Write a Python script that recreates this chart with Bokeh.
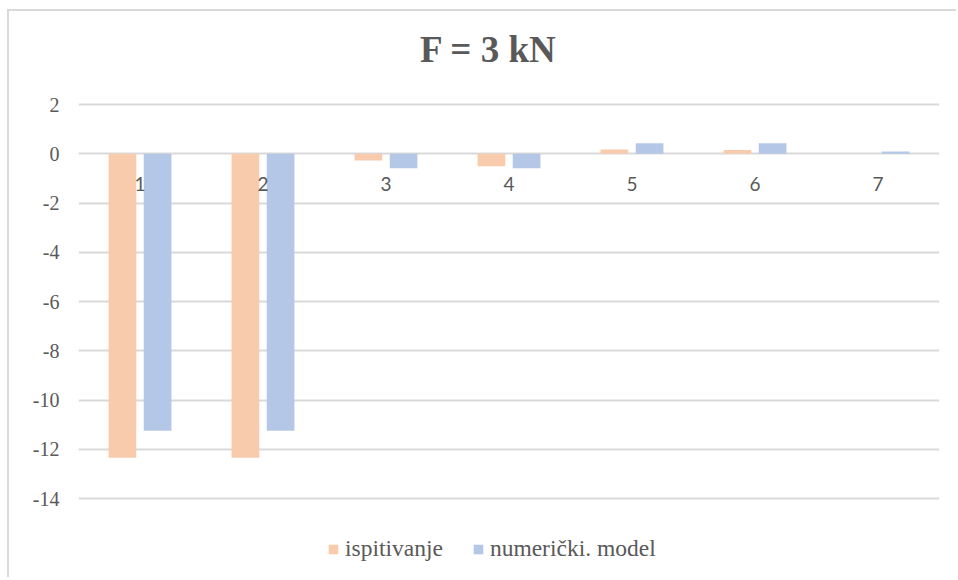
from bokeh.plotting import figure
from bokeh.models import Range1d, FixedTicker, Legend, LegendItem, Label, ColumnDataSource
from bokeh.core.properties import value
from bokeh.transform import dodge
from bokeh.embed import file_html
from bokeh.resources import INLINE

# data
categories = ["1", "2", "3", "4", "5", "6", "7"]
xpos = [1, 2, 3, 4, 5, 6, 7]
ispitivanje = [-12.35, -12.35, -0.27, -0.51, 0.17, 0.15, 0.0]
numericki = [-11.25, -11.25, -0.59, -0.59, 0.43, 0.43, 0.09]
y_ticks = [-14, -12, -10, -8, -6, -4, -2, 0, 2]
title_text = "F = 3 kN"
series_names = ["ispitivanje", "numerički. model"]

ORANGE = "#F8CBAD"
BLUE = "#B4C7E7"
TEXT = "#595959"
GRID = "#D9D9D9"

# layout (pixels)
W, H = 949, 568
PLOT_TOP, PLOT_BOTTOM = 93, 487      # axis span (2 .. -14) inside the canvas
px_per_unit = (PLOT_BOTTOM - PLOT_TOP) / (y_ticks[-1] - y_ticks[0])
y_hi = y_ticks[-1] + PLOT_TOP / px_per_unit
y_lo = y_ticks[0] - (H - PLOT_BOTTOM) / px_per_unit

src = ColumnDataSource(dict(x=xpos, a=ispitivanje, b=numericki,
                            zero=[0] * len(xpos), lab=categories))

p = figure(width=W, height=H, output_backend="svg", toolbar_location=None,
           x_axis_location=None,
           x_range=Range1d(0.5, 7.5), y_range=Range1d(y_lo, y_hi))
p.min_border_left = 69
p.min_border_right = 19
p.min_border_top = 0
p.min_border_bottom = 0
p.outline_line_color = None
p.background_fill_color = "white"
p.border_fill_color = "white"
p.styles = {"margin-left": "7px", "margin-top": "9px",
            "border-left": "2px solid #D9D9D9", "border-top": "2px solid #D9D9D9"}

p.xgrid.grid_line_color = None
p.ygrid.ticker = FixedTicker(ticks=y_ticks)
p.ygrid.grid_line_color = GRID
p.ygrid.grid_line_width = 2

r1 = p.vbar(x=dodge("x", -0.143), top="a", bottom=0, width=0.225, source=src,
            fill_color=ORANGE, line_color=None)
r2 = p.vbar(x=dodge("x", 0.143), top="b", bottom=0, width=0.225, source=src,
            fill_color=BLUE, line_color=None)

# category labels just below the zero line
p.text(x="x", y="zero", text="lab", source=src, text_font=value("Lato"),
       text_font_size="19px", text_color=TEXT, text_align="center",
       text_baseline="middle", y_offset=30)

# title
title = Label(text=title_text, x=410, y=H - 38, x_units="screen", y_units="screen",
              text_align="center", text_baseline="alphabetic",
              text_font="Liberation Serif", text_font_size="37px",
              text_color=TEXT, text_font_style="bold")
p.add_layout(title)

# y axis
p.yaxis.ticker = FixedTicker(ticks=y_ticks)
p.yaxis.major_label_overrides = {t: str(t) for t in y_ticks}
p.yaxis.axis_line_color = None
p.yaxis.major_tick_line_color = None
p.yaxis.minor_tick_line_color = None
p.yaxis.major_label_text_font = "Liberation Serif"
p.yaxis.major_label_text_font_size = "20px"
p.yaxis.major_label_text_color = TEXT
p.yaxis.major_label_standoff = 13

legend = Legend(items=[LegendItem(label=series_names[0], renderers=[r1]),
                       LegendItem(label=series_names[1], renderers=[r2])],
                orientation="horizontal", location=(249, 17),
                label_text_font="Liberation Serif", label_text_font_size="23.5px",
                label_text_color=TEXT, glyph_width=12, glyph_height=12,
                label_standoff=6, spacing=29, border_line_color=None,
                background_fill_alpha=0, margin=0, padding=0)
p.add_layout(legend, "center")

open("out.html", "w").write(file_html(p, INLINE))
